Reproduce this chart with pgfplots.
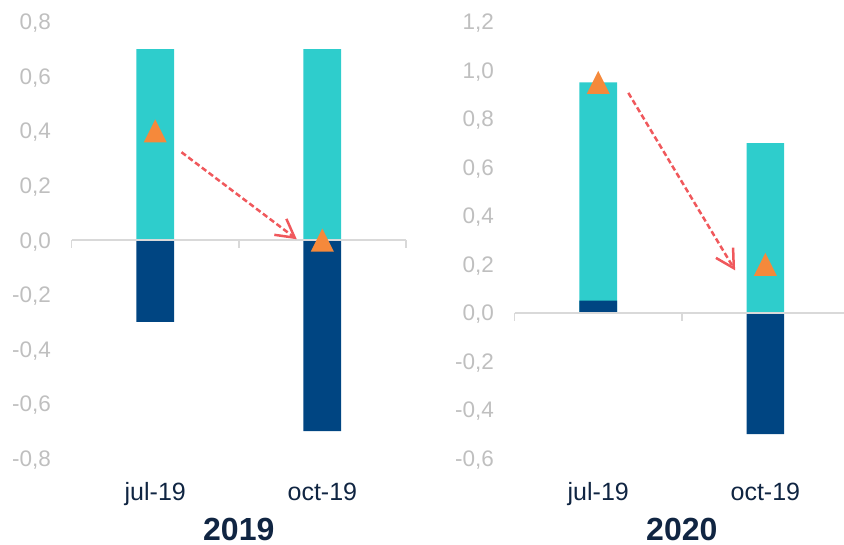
\documentclass[border=0pt]{standalone}
\usepackage{pgfplots}
\pgfplotsset{compat=1.18}
\usepackage{fontspec}
\setmainfont{Liberation Sans}
\usetikzlibrary{arrows.meta}
\definecolor{cyanbar}{RGB}{46,205,204}
\definecolor{navybar}{RGB}{0,69,130}
\definecolor{trifill}{RGB}{245,137,59}
\definecolor{arr}{RGB}{240,88,92}
\definecolor{ticklab}{RGB}{191,191,191}
\definecolor{catlab}{RGB}{16,37,66}
\definecolor{axgray}{RGB}{217,217,217}

\pgfdeclareplotmark{etri}{%
  \pgfpathmoveto{\pgfqpoint{0pt}{\pgfplotmarksize}}%
  \pgfpathlineto{\pgfqpoint{\pgfplotmarksize}{-\pgfplotmarksize}}%
  \pgfpathlineto{\pgfqpoint{-\pgfplotmarksize}{-\pgfplotmarksize}}%
  \pgfpathclose\pgfusepathqfill}

\tikzset{
  bars/.style={ybar, bar width=37.7pt, bar shift=0pt, draw=none},
  tris/.style={only marks, mark=etri, mark size=11.5pt, color=trifill},
  arrw/.style={arr, line width=2.5pt, dash pattern=on 5.5pt off 3pt, -{Straight Barb[length=18pt, width=20pt, line width=2.5pt]}},
  basel/.style={axgray, line width=1.5pt},
}

\pgfplotsset{panel/.style={
  scale only axis, width=334.2pt, height=436.5pt,
  anchor=south west,
  xmin=-0.5, xmax=1.5,
  axis line style={draw=none}, major tick length=0pt, minor tick length=0pt,
  xtick={0,1}, xticklabels={jul-19,oct-19},
  xticklabel style={font=\fontsize{25}{30}\selectfont, text=catlab, anchor=base, inner sep=0pt, yshift=-41.7pt},
  yticklabel style={font=\fontsize{22.5}{27}\selectfont, text=ticklab, anchor=base east, inner sep=0pt, xshift=-20.7pt, yshift=-8pt},
  xlabel style={font=\fontsize{32}{38}\selectfont\bfseries, text=catlab, at={(axis description cs:0.5,0)}, anchor=base, inner sep=0pt, yshift=-81.8pt},
  clip=false,
}}

\begin{document}
\begin{tikzpicture}
\useasboundingbox (-71.7pt,-85.7pt) rectangle (772.3pt,458.3pt);

% ---------- 2019 ----------
\begin{axis}[panel, at={(0pt,0pt)},
  ymin=-0.8, ymax=0.8,
  ytick={-0.8,-0.6,-0.4,-0.2,0,0.2,0.4,0.6,0.8},
  yticklabels={{-0,8},{-0,6},{-0,4},{-0,2},{0,0},{0,2},{0,4},{0,6},{0,8}},
  xlabel={2019}]
\addplot[bars, fill=cyanbar] coordinates {(0,0.70) (1,0.70)};
\addplot[bars, fill=navybar] coordinates {(0,-0.30) (1,-0.70)};
\draw[basel] (axis cs:-0.5,0) -- (axis cs:1.5,0);
\draw[basel] (axis cs:-0.5,0) -- ++(0pt,-7.7pt);
\draw[basel] (axis cs:0.5,0) -- ++(0pt,-7.7pt);
\draw[basel] (axis cs:1.5,0) -- ++(0pt,-7.7pt);
\addplot[tris] coordinates {(0,0.40) (1,0.00)};
\draw[arrw] (axis cs:0.157,0.322) -- (axis cs:0.847,0.003);
\end{axis}

% ---------- 2020 ----------
\begin{axis}[panel, at={(443pt,0pt)},
  ymin=-0.6, ymax=1.2,
  ytick={-0.6,-0.4,-0.2,0,0.2,0.4,0.6,0.8,1.0,1.2},
  yticklabels={{-0,6},{-0,4},{-0,2},{0,0},{0,2},{0,4},{0,6},{0,8},{1,0},{1,2}},
  xlabel={2020}]
\addplot[bars, fill=cyanbar] coordinates {(0,0.95) (1,0.70)};
\addplot[bars, fill=navybar] coordinates {(0,0.05) (1,-0.50)};
\draw[basel] (axis cs:-0.5,0) -- (axis cs:1.5,0);
\draw[basel] (axis cs:-0.5,0) -- ++(0pt,-7.7pt);
\draw[basel] (axis cs:0.5,0) -- ++(0pt,-7.7pt);
\draw[basel] (axis cs:1.5,0) -- ++(0pt,-7.7pt);
\addplot[tris] coordinates {(0,0.95) (1,0.20)};
\draw[arrw] (axis cs:0.18,0.907) -- (axis cs:0.819,0.175);
\end{axis}
\end{tikzpicture}
\end{document}
